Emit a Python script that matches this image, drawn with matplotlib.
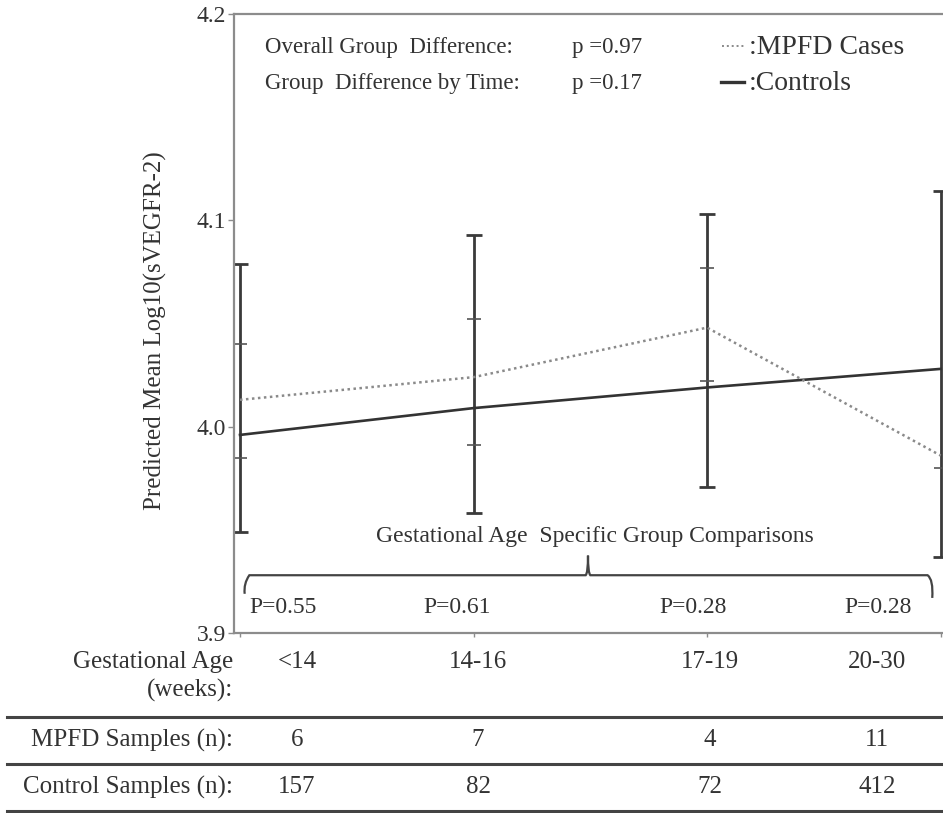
import numpy as np
import matplotlib
matplotlib.use('Agg')
import matplotlib.pyplot as plt
from matplotlib.path import Path
from matplotlib.patches import PathPatch

plt.rcParams['font.family'] = ['Liberation Serif', 'DejaVu Serif']

ages = ['<14', '14-16', '17-19', '20-30']
mpfd_mean = [4.013, 4.024, 4.048, 3.986]
ctrl_mean = [3.996, 4.009, 4.019, 4.028]
# outer bars and the small inner ticks on them
bar_lo = [3.949, 3.958, 3.971, 3.937]
bar_hi = [4.079, 4.093, 4.103, 4.114]
tick_lo = [3.985, 3.991, 4.022, 3.980]
tick_hi = [4.040, 4.052, 4.077, np.nan]
pvals = ['P=0.55', 'P=0.61', 'P=0.28', 'P=0.28']
mpfd_n = [6, 7, 4, 11]
ctrl_n = [157, 82, 72, 412]

W, H = 943, 813
TXT = '#333333'


def fx(px):
    return px / W


def fy(py):
    return 1 - py / H


fig = plt.figure(figsize=(W / 100, H / 100), dpi=100)
ax = fig.add_axes([fx(234), fy(633), 1 - fx(234), fy(14) - fy(633)])
x = np.arange(len(ages))
ax.set_xlim(-0.0257, 3.01)
ax.set_ylim(3.9, 4.2)

ax.plot(x, ctrl_mean, color='#333333', lw=1.9, zorder=3)
ax.plot(x, mpfd_mean, color='#8a8a8a', lw=1.8, linestyle=(0, (1, 1.4)), zorder=3)

ax.vlines(x, bar_lo, bar_hi, color='#3a3a3a', lw=2.0, zorder=2)
ax.plot(x, bar_lo, ls='none', marker='_', ms=11, mew=2.0, color='#3a3a3a')
ax.plot(x, bar_hi, ls='none', marker='_', ms=11, mew=2.0, color='#3a3a3a')
ax.plot(x, tick_lo, ls='none', marker='_', ms=10, mew=1.2, color='#555555')
ax.plot(x, tick_hi, ls='none', marker='_', ms=10, mew=1.2, color='#555555')

for s in ['top', 'left', 'bottom']:
    ax.spines[s].set_color('#8c8c8c')
    ax.spines[s].set_linewidth(1.6)
ax.spines['right'].set_visible(False)
ax.set_yticks([3.9, 4.0, 4.1, 4.2])
ax.set_yticklabels(['3.9', '4.0', '4.1', '4.2'])
ax.set_xticks(x)
ax.set_xticklabels([])
ax.tick_params(axis='y', length=4, width=1, color='#8c8c8c', labelsize=17, labelcolor=TXT, pad=2)
ax.tick_params(axis='x', length=3, width=1, color='#8c8c8c')

fig.text(fx(155), fy(331), 'Predicted Mean Log10(sVEGFR-2)', rotation=90, ha='center', va='center',
         fontsize=18, color=TXT)

# header annotations
fig.text(fx(265), fy(48), 'Overall Group  Difference:', ha='left', va='center', fontsize=16.5, color=TXT)
fig.text(fx(572), fy(48), 'p =0.97', ha='left', va='center', fontsize=16.5, color=TXT)
fig.text(fx(265), fy(84), 'Group  Difference by Time:', ha='left', va='center', fontsize=16.5, color=TXT)
fig.text(fx(572), fy(84), 'p =0.17', ha='left', va='center', fontsize=16.5, color=TXT)

ax.plot([0.688, 0.72], [0.948, 0.948], transform=ax.transAxes, color='#8a8a8a', lw=1.4,
        linestyle=(0, (1, 1.5)))
ax.plot([0.687, 0.72], [0.89, 0.89], transform=ax.transAxes, color='#333333', lw=2.4)
fig.text(fx(749), fy(48), ':MPFD Cases', ha='left', va='center', fontsize=20, color=TXT)
fig.text(fx(749), fy(84), ':Controls', ha='left', va='center', fontsize=20, color=TXT)

# brace over the p-values
yb, ytip, yend = 3.928, 3.9375, 3.919
xl, xr, xm = 0.02, 2.964, 1.49
verts = [(xl, yend), (xl - 0.005, yb - 0.004), (xl + 0.02, yb),
         (xm - 0.01, yb), (xm, yb + 0.001), (xm, ytip),
         (xm, yb + 0.001), (xm + 0.01, yb),
         (xr - 0.02, yb), (xr + 0.005, yb - 0.002), (xr, yend - 0.002)]
codes = [Path.MOVETO, Path.CURVE3, Path.CURVE3,
         Path.LINETO, Path.CURVE3, Path.CURVE3,
         Path.CURVE3, Path.CURVE3,
         Path.LINETO, Path.CURVE3, Path.CURVE3]
ax.add_patch(PathPatch(Path(verts, codes), fill=False, edgecolor='#444444', lw=1.6))
ax.text(1.52, 3.947, 'Gestational Age  Specific Group Comparisons', ha='center', va='center',
        fontsize=17, color=TXT)
p_x = [0.184, 0.929, 1.94, 2.73]
for px_, p in zip(p_x, pvals):
    ax.text(px_, 3.9124, p, ha='center', va='center', fontsize=17, color=TXT)

# table below the axis
cols = [297, 478, 710, 877]
fig.text(fx(233), fy(662), 'Gestational Age', ha='right', va='center', fontsize=18, color=TXT)
fig.text(fx(233), fy(690), '(weeks):', ha='right', va='center', fontsize=18, color=TXT)
fig.text(fx(233), fy(740), 'MPFD Samples (n):', ha='right', va='center', fontsize=18, color=TXT)
fig.text(fx(233), fy(787), 'Control Samples (n):', ha='right', va='center', fontsize=18, color=TXT)
for c, a, m, k in zip(cols, ages, mpfd_n, ctrl_n):
    fig.text(fx(c), fy(662), a, ha='center', va='center', fontsize=18, color=TXT)
    fig.text(fx(c), fy(740), str(m), ha='center', va='center', fontsize=18, color=TXT)
    fig.text(fx(c), fy(787), str(k), ha='center', va='center', fontsize=18, color=TXT)
for yl in [717, 764, 811]:
    fig.add_artist(plt.Line2D([fx(7), 1], [fy(yl), fy(yl)], color='#444444', lw=2.2))

fig.savefig('out.png', dpi=100)
